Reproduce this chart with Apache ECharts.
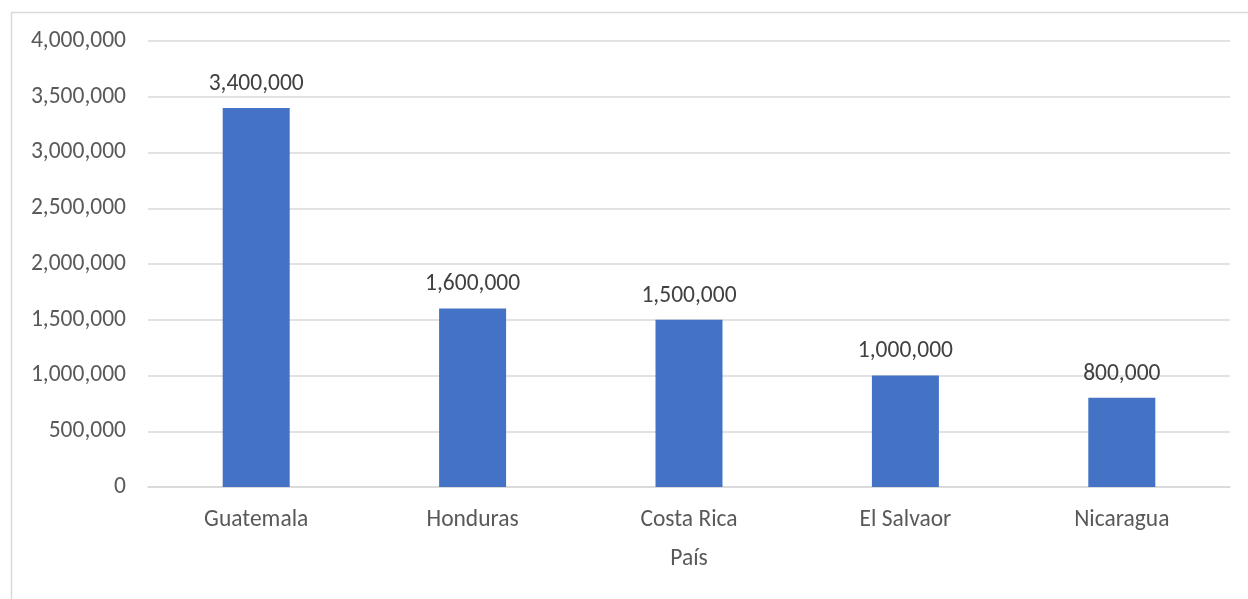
<!DOCTYPE html>
<html>
<head>
<meta charset="utf-8">
<style>
  html, body { margin: 0; padding: 0; background: #ffffff; }
  #chart { width: 1248px; height: 599px; }
</style>
<script src="https://cdn.jsdelivr.net/npm/echarts@6/dist/echarts.min.js"></script>
</head>
<body>
<div id="chart"></div>
<script>
// Country categories and their values
const countries = ['Guatemala', 'Honduras', 'Costa Rica', 'El Salvaor', 'Nicaragua'];
const values = [3400000, 1600000, 1500000, 1000000, 800000];
const axisTitle = 'País';

const textColor = '#595959';
const gridColor = '#d9d9d9';
const barColor = '#4472C4';
const fontFamily = 'Carlito, "Open Sans", "Noto Sans", sans-serif';
const fontSize = 23.5;

const fmt = v => Number(v).toLocaleString('en-US');

const chart = echarts.init(document.getElementById('chart'), null, { renderer: 'canvas' });
chart.setOption({
  animation: false,
  backgroundColor: '#ffffff',
  textStyle: { fontFamily: fontFamily, color: textColor },
  graphic: [{
    type: 'rect',
    shape: { x: 11.5, y: 12.5, width: 1260, height: 620 },
    style: { fill: 'none', stroke: gridColor, lineWidth: 1.5 },
    silent: true,
    z: -1
  }],
  grid: { left: 148, right: 18, top: 41, bottom: 112, containLabel: false },
  xAxis: {
    type: 'category',
    data: countries,
    name: axisTitle,
    nameLocation: 'middle',
    nameGap: 60,
    nameTextStyle: { fontSize: fontSize, color: textColor, fontFamily: fontFamily },
    axisLine: { show: true, lineStyle: { color: gridColor, width: 1.5 } },
    axisTick: { show: false },
    axisLabel: { fontSize: fontSize, color: textColor, margin: 21, fontFamily: fontFamily }
  },
  yAxis: {
    type: 'value',
    min: 0,
    max: 4000000,
    interval: 500000,
    axisLine: { show: false },
    axisTick: { show: false },
    splitLine: { lineStyle: { color: gridColor, width: 1.5 } },
    axisLabel: { fontSize: fontSize, color: textColor, margin: 22, fontFamily: fontFamily, formatter: fmt }
  },
  series: [{
    type: 'bar',
    data: values,
    barWidth: 67,
    itemStyle: { color: barColor },
    label: {
      show: true,
      position: 'top',
      distance: 12,
      fontSize: fontSize,
      color: '#404040',
      fontFamily: fontFamily,
      formatter: p => fmt(p.value)
    }
  }]
});
</script>
</body>
</html>
